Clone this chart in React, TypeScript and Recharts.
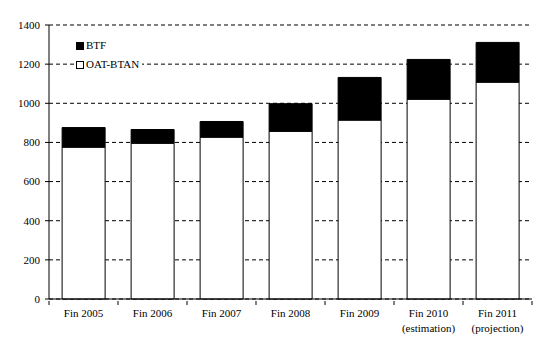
import React from "react";
import { BarChart, Bar, XAxis, YAxis, CartesianGrid } from "recharts";

const categories = ["Fin 2005", "Fin 2006", "Fin 2007", "Fin 2008", "Fin 2009", "Fin 2010", "Fin 2011"];
const subLabels = ["", "", "", "", "", "(estimation)", "(projection)"];
const oatBtan = [776, 796, 827, 857, 914, 1021, 1108];
const btf = [100, 70, 80, 141, 218, 203, 203];
const yTicks = [0, 200, 400, 600, 800, 1000, 1200, 1400];

const data = categories.map((c, i) => ({ name: c, oat: oatBtan[i], btf: btf[i] }));

const font = "Liberation Serif";

// label + boundary tick marks (ticks sit between categories, not at centres)
const XTick = (props: any) => {
    const { x, y, payload, index } = props;
    const sub = subLabels[index];
    const half = payload && payload.offset ? payload.offset : 0;
    const last = index === categories.length - 1;
    return (
        <g transform={`translate(${x},${y})`}>
            {half ? <line x1={-half} x2={-half} y1={-8} y2={-4} stroke="#000" /> : null}
            {half && last ? <line x1={half} x2={half} y1={-8} y2={-4} stroke="#000" /> : null}
            <text x={0} y={0} dy={8} textAnchor="middle" fill="#000" fontSize={11} fontFamily={font}>
                {payload.value}
            </text>
            {sub ? (
                <text x={0} y={0} dy={23} textAnchor="middle" fill="#000" fontSize={11} fontFamily={font}>
                    {sub}
                </text>
            ) : null}
        </g>
    );
};

const LegendBox = () => (
    <div style={{ position: "absolute", left: 74, top: 36, background: "#fff", fontFamily: font, fontSize: 11, color: "#000", padding: "0 3px 0 2px", lineHeight: "19px" }}>
        <div style={{ display: "flex", alignItems: "center" }}>
            <span style={{ display: "inline-block", width: 6, height: 6, background: "#000", border: "1px solid #000", marginRight: 2 }} />
            BTF
        </div>
        <div style={{ display: "flex", alignItems: "center" }}>
            <span style={{ display: "inline-block", width: 6, height: 6, background: "#fff", border: "1px solid #000", marginRight: 2 }} />
            OAT-BTAN
        </div>
    </div>
);

const App = () => {
    return (
        <div style={{ position: "absolute", left: 0, top: 0, width: 557, height: 356, background: "#fff" }}>
            <BarChart width={557} height={356} data={data} margin={{ top: 25, right: 25, left: 0, bottom: 0 }} barCategoryGap="19%">
                <CartesianGrid horizontal={true} vertical={false} stroke="#000" strokeDasharray="4 3" />
                <XAxis
                    dataKey="name"
                    height={57}
                    tickLine={false}
                    tickSize={8}
                    axisLine={{ stroke: "#000" }}
                    tick={<XTick />}
                    interval={0}
                />
                <YAxis
                    width={49}
                    domain={[0, 1400]}
                    ticks={yTicks}
                    tickSize={4}
                    tickMargin={5}
                    axisLine={{ stroke: "#000" }}
                    tickLine={{ stroke: "#000" }}
                    tick={{ fill: "#000", fontSize: 11, fontFamily: font }}
                />
                <Bar dataKey="oat" stackId="a" fill="#fff" stroke="#000" strokeWidth={1} isAnimationActive={false} />
                <Bar dataKey="btf" stackId="a" fill="#000" stroke="#000" strokeWidth={1} isAnimationActive={false} />
            </BarChart>
            <LegendBox />
        </div>
    );
};

export default App;
